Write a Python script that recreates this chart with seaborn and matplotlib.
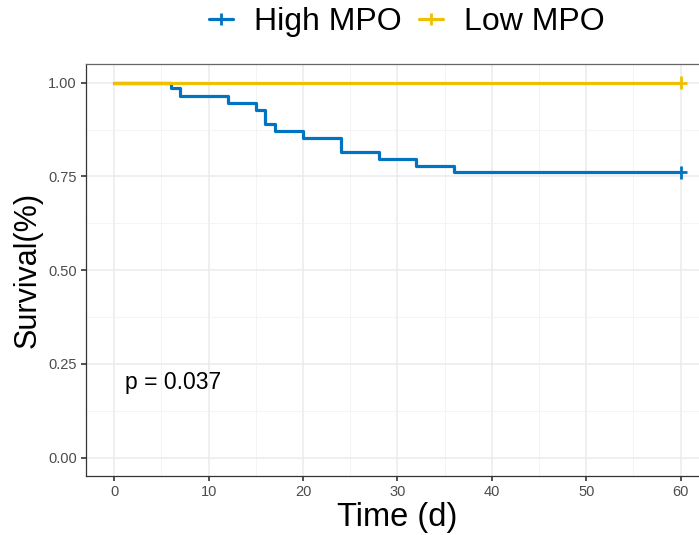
import matplotlib
matplotlib.use("Agg")
import matplotlib.pyplot as plt
from matplotlib.lines import Line2D
import numpy as np
import pandas as pd
import seaborn as sns

# Kaplan-Meier step estimates per group
groups = ["High MPO", "Low MPO"]
colors = ["#0073C2", "#EFC000"]
high_times = [0, 6, 7, 12, 15, 16, 17, 20, 24, 28, 32, 36, 60]
high_surv = [1.0, 0.986, 0.965, 0.946, 0.926, 0.890, 0.872, 0.852, 0.816, 0.797, 0.778, 0.761, 0.761]
low_times = [0, 60]
low_surv = [1.0, 1.0]
censor_times = [60, 60]
censor_surv = [0.761, 1.0]
pval_text = "p = 0.037"
x_ticks = [0, 10, 20, 30, 40, 50, 60]
y_ticks = [0.00, 0.25, 0.50, 0.75, 1.00]

curves = pd.DataFrame({
    "time": high_times + low_times,
    "surv": high_surv + low_surv,
    "group": [groups[0]] * len(high_times) + [groups[1]] * len(low_times),
})
censors = pd.DataFrame({"time": censor_times, "surv": censor_surv, "group": groups})
palette = dict(zip(groups, colors))

sns.set_theme(style="white")
plt.rcParams["font.family"] = ["Liberation Sans", "DejaVu Sans"]
plt.rcParams["text.color"] = "black"

fig = plt.figure(figsize=(6.99, 5.35), dpi=100)
ax = fig.add_axes([0.1230, 0.1095, 1.0142 - 0.1230, 0.8804 - 0.1095])

sns.lineplot(data=curves, x="time", y="surv", hue="group", palette=palette,
             drawstyle="steps-post", linewidth=2.3, legend=False, ax=ax,
             zorder=3)
sns.scatterplot(data=censors, x="time", y="surv", hue="group", palette=palette,
                marker="+", s=90, linewidth=2.0, legend=False, ax=ax, zorder=4)

ax.set_xlim(-3, 63)
ax.set_ylim(-0.05, 1.05)
ax.set_xticks(x_ticks)
ax.set_yticks(y_ticks)
ax.set_xticklabels([str(t) for t in x_ticks])
ax.set_yticklabels([f"{v:.2f}" for v in y_ticks])
ax.set_xticks(np.arange(5, 60, 10), minor=True)
ax.set_yticks(np.arange(0.125, 1.0, 0.25), minor=True)
ax.grid(which="major", color="#EBEBEB", linewidth=1.1)
ax.grid(which="minor", color="#F2F2F2", linewidth=0.6)
ax.set_axisbelow(True)

for side in ["left", "bottom", "top"]:
    ax.spines[side].set_color("#333333")
    ax.spines[side].set_linewidth(0.9)
ax.spines["right"].set_visible(False)
ax.spines["top"].set_color("#666666")

ax.tick_params(which="major", direction="out", length=3.5, width=1.2,
               color="#333333", labelsize=10.5, labelcolor="#4D4D4D", pad=3,
               bottom=True, left=True)
ax.tick_params(which="minor", length=0)

ax.set_xlabel("Time (d)", fontsize=23.5, color="black", labelpad=2)
ax.set_ylabel("Survival(%)", fontsize=22, color="black", labelpad=4)

ax.text(1.1, 0.2, pval_text, fontsize=16.5, ha="left", va="center", color="black")

handles = [Line2D([0], [0], color=c, marker="+", markersize=8, markeredgewidth=2,
                  linewidth=2.3) for c in colors]
leg = fig.legend(handles, groups, loc="center", bbox_to_anchor=(0.582, 0.958),
                 ncol=2, frameon=False, fontsize=23, handlelength=0.75,
                 handletextpad=0.65, columnspacing=0.55)
for t in leg.get_texts():
    t.set_color("black")

fig.savefig("out.png", dpi=100)
